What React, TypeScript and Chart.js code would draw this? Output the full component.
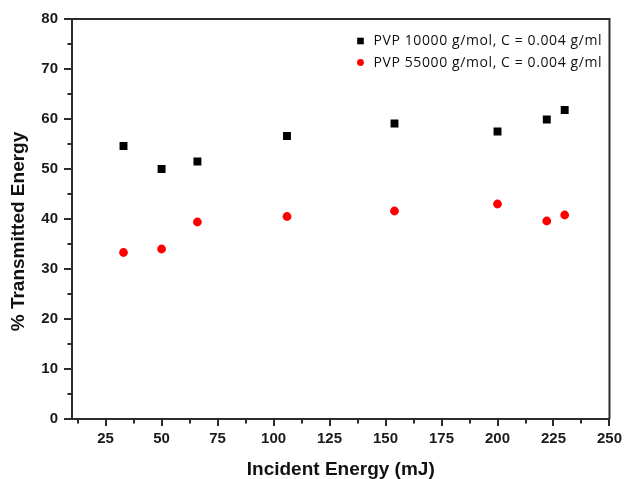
import React, { useEffect, useRef } from 'react';
import { Chart, registerables } from 'chart.js';

Chart.register(...registerables);

// ---- data ----
const incidentEnergy = [33, 50, 66, 106, 154, 200, 222, 230];
const pvp10000 = [54.6, 50.0, 51.5, 56.6, 59.1, 57.5, 59.9, 61.8];
const pvp55000 = [33.3, 34.0, 39.4, 40.5, 41.6, 43.0, 39.6, 40.8];
const seriesLabels = ['PVP 10000 g/mol, C = 0.004 g/ml', 'PVP 55000 g/mol, C = 0.004 g/ml'];
const xTicks = [25, 50, 75, 100, 125, 150, 175, 200, 225, 250];
const xMinorTicks = [12.5, 37.5, 62.5, 87.5, 112.5, 137.5, 162.5, 187.5, 212.5, 237.5];
const yMinorTicks = [5, 15, 25, 35, 45, 55, 65, 75];
const xTitle = 'Incident Energy (mJ)';
const yTitle = '% Transmitted Energy';

const AXIS_COLOR = '#2b2b2b';
const FONT = '"Liberation Sans", Arial, sans-serif';

const framePlugin = {
  id: 'frameLegend',
  afterDraw(chart: any) {
    const { ctx, chartArea: a, scales } = chart;
    const xs = scales.x;
    const ys = scales.y;
    ctx.save();
    ctx.strokeStyle = AXIS_COLOR;
    ctx.lineWidth = 2;
    // top & right frame
    ctx.beginPath();
    ctx.moveTo(a.left - 1, a.top);
    ctx.lineTo(a.right, a.top);
    ctx.lineTo(a.right, a.bottom);
    ctx.stroke();
    // minor ticks
    ctx.beginPath();
    for (const v of xMinorTicks) {
      const px = Math.round(xs.getPixelForValue(v));
      ctx.moveTo(px, a.bottom);
      ctx.lineTo(px, a.bottom + 4.5);
    }
    for (const v of yMinorTicks) {
      const py = Math.round(ys.getPixelForValue(v));
      ctx.moveTo(a.left, py);
      ctx.lineTo(a.left - 4.5, py);
    }
    ctx.stroke();

    // y title
    ctx.save();
    ctx.translate(19, (a.top + a.bottom) / 2 + 12.5);
    ctx.rotate(-Math.PI / 2);
    ctx.fillStyle = '#111';
    ctx.font = `bold 19px ${FONT}`;
    ctx.textAlign = 'center';
    ctx.textBaseline = 'middle';
    ctx.fillText(yTitle, 0, 0);
    ctx.restore();

    // legend
    const mx = a.right - 249;
    const rows = [a.top + 22, a.top + 43.5];
    chart.data.datasets.forEach((ds: any, i: number) => {
      const my = rows[i];
      ctx.fillStyle = ds.backgroundColor;
      if (ds.pointStyle === 'rect') {
        ctx.fillRect(mx - 3.3, my - 3.3, 6.6, 6.6);
      } else {
        ctx.beginPath();
        ctx.arc(mx, my, 3.4, 0, Math.PI * 2);
        ctx.fill();
      }
      ctx.fillStyle = '#111';
      ctx.font = '14px "Open Sans", sans-serif';
      (ctx as any).letterSpacing = '0.6px';
      ctx.textAlign = 'left';
      ctx.textBaseline = 'middle';
      ctx.fillText(ds.label, mx + 13, my + 0.5);
      (ctx as any).letterSpacing = '0px';
    });
    ctx.restore();
  },
};

export default function App() {
  const ref = useRef<HTMLCanvasElement | null>(null);

  useEffect(() => {
    if (!ref.current) return;
    const chart = new Chart(ref.current, {
      type: 'scatter',
      data: {
        datasets: [
          {
            label: seriesLabels[0],
            data: incidentEnergy.map((x, i) => ({ x, y: pvp10000[i] })),
            pointStyle: 'rect',
            pointRadius: 5.6,
            borderWidth: 0,
            backgroundColor: '#000000',
            borderColor: '#000000',
          },
          {
            label: seriesLabels[1],
            data: incidentEnergy.map((x, i) => ({ x, y: pvp55000[i] })),
            pointStyle: 'circle',
            pointRadius: 4.4,
            borderWidth: 0,
            backgroundColor: '#ff0000',
            borderColor: '#ff0000',
          },
        ],
      },
      options: {
        animation: false,
        responsive: false,
        devicePixelRatio: 1,
        layout: { padding: { left: 0, top: 19, right: 13, bottom: 0 } },
        plugins: {
          legend: { display: false },
          tooltip: { enabled: false },
        },
        scales: {
          x: {
            type: 'linear',
            min: 10,
            max: 250,
            afterBuildTicks: (scale: any) => {
              scale.ticks = xTicks.map((v) => ({ value: v }));
            },
            afterFit: (scale: any) => {
              scale.height = 60;
            },
            grid: {
              display: true,
              drawOnChartArea: false,
              drawTicks: true,
              tickLength: 7,
              color: AXIS_COLOR,
              lineWidth: 2,
            },
            border: { display: true, color: AXIS_COLOR, width: 2 },
            ticks: {
              color: '#1a1a1a',
              padding: 4,
              maxRotation: 0,
              autoSkip: false,
              font: { family: FONT, size: 15, weight: 'bold' },
            },
            title: {
              display: true,
              text: xTitle,
              color: '#111',
              padding: { top: 0, bottom: 0 },
              font: { family: FONT, size: 19, weight: 'bold', lineHeight: 1 },
            },
          },
          y: {
            type: 'linear',
            min: 0,
            max: 80,
            afterFit: (scale: any) => {
              scale.width = 72;
            },
            grid: {
              display: true,
              drawOnChartArea: false,
              drawTicks: true,
              tickLength: 8,
              color: AXIS_COLOR,
              lineWidth: 2,
            },
            border: { display: true, color: AXIS_COLOR, width: 2 },
            ticks: {
              stepSize: 10,
              color: '#1a1a1a',
              padding: 6,
              font: { family: FONT, size: 15, weight: 'bold' },
            },
            title: { display: false },
          },
        },
      },
      plugins: [framePlugin],
    } as any);
    return () => chart.destroy();
  }, []);

  return (
    <div style={{ position: 'fixed', left: 0, top: 0, width: 626, height: 479, background: '#fff' }}>
      <canvas ref={ref} width={626} height={479} />
    </div>
  );
}
